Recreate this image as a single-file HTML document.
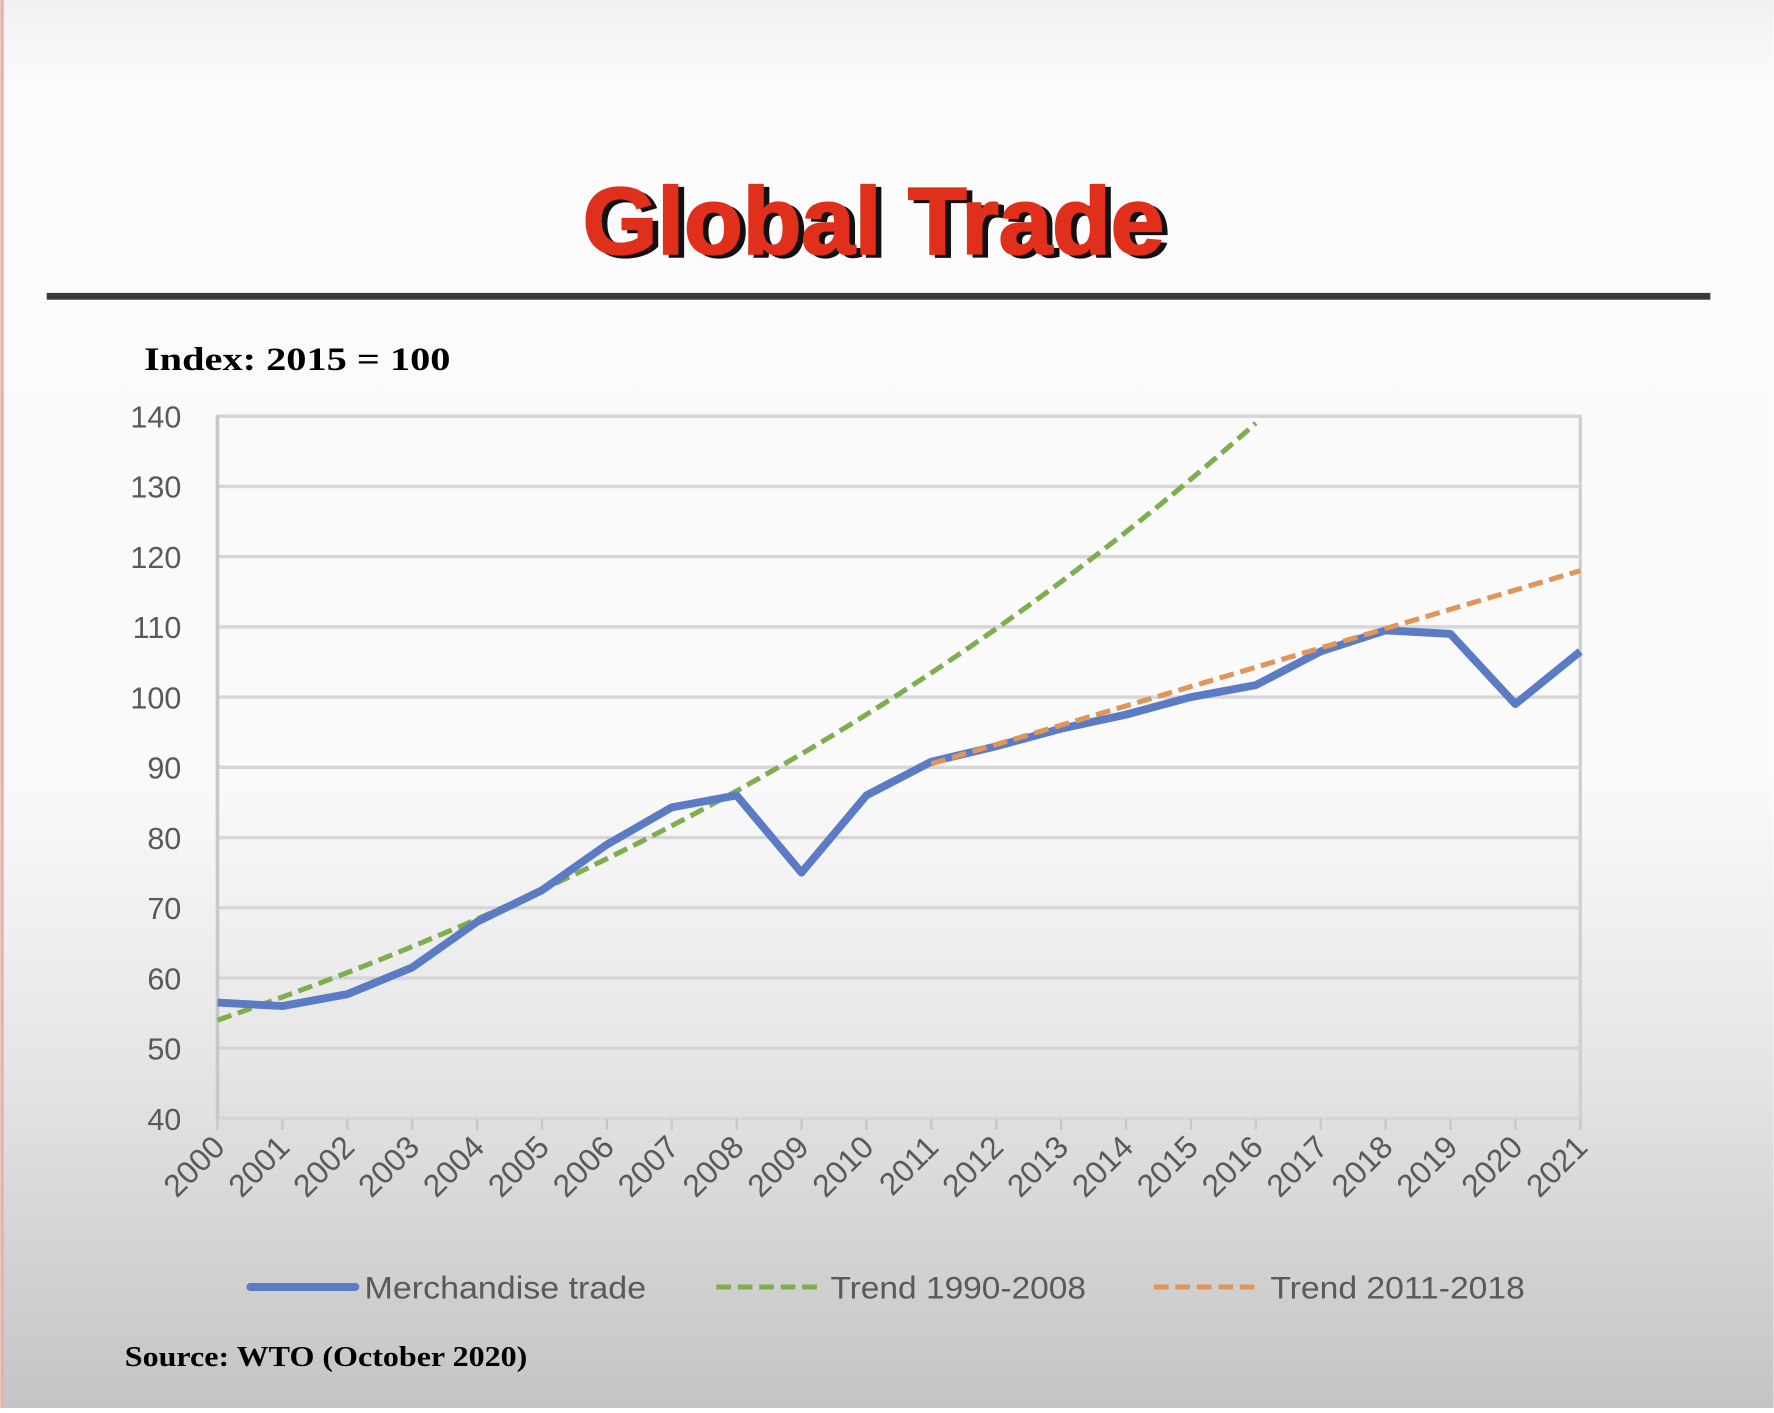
<!DOCTYPE html>
<html><head><meta charset="utf-8"><style>
html,body{margin:0;padding:0;}
body{width:1774px;height:1408px;overflow:hidden;}
</style></head><body>
<svg id="s" width="1774" height="1408" viewBox="0 0 1568 1245" xmlns="http://www.w3.org/2000/svg">
<defs>
<linearGradient id="bg" x1="0" y1="0" x2="0" y2="1">
<stop offset="0" stop-color="#f0f0f0"/>
<stop offset="0.06" stop-color="#fbfbfb"/>
<stop offset="0.55" stop-color="#fafafa"/>
<stop offset="0.75" stop-color="#e6e6e6"/>
<stop offset="1" stop-color="#c4c4c4"/>
</linearGradient>
</defs>
<rect width="1568" height="1245" fill="url(#bg)"/>
<rect x="0" y="0" width="3" height="1245" fill="#e8b0a8"/>
<text x="777" y="227" text-anchor="middle" font-family="Liberation Sans, sans-serif" font-weight="bold" font-size="84" fill="#111" textLength="514" lengthAdjust="spacingAndGlyphs" stroke="#111" stroke-width="2">Global Trade</text>
<text x="772" y="224" text-anchor="middle" font-family="Liberation Sans, sans-serif" font-weight="bold" font-size="84" fill="#e0301c" textLength="514" lengthAdjust="spacingAndGlyphs" stroke="#e0301c" stroke-width="2">Global Trade</text>
<rect x="41" y="259" width="1471" height="6" fill="#3a3a3a"/>
<text x="127" y="327" font-family="Liberation Serif, serif" font-weight="bold" font-size="29" fill="#000" textLength="271" lengthAdjust="spacingAndGlyphs">Index: 2015 = 100</text>
<g id="chart"></g>
<text x="110" y="1208" font-family="Liberation Serif, serif" font-weight="bold" font-size="25" fill="#000" textLength="356" lengthAdjust="spacingAndGlyphs">Source: WTO (October 2020)</text>
</svg>
<script>
var g=document.getElementById('chart'),h='';
function Y(v){return 989-(v-40)*6.21;}
function X(i){return 192+i*1205/21;}
h+='<rect x="192" y="368" width="1205" height="621" fill="none" stroke="#d0d0d0" stroke-width="3"/>';
for(var v=40;v<=140;v+=10){
 h+='<line x1="192" x2="1397" y1="'+Y(v)+'" y2="'+Y(v)+'" stroke="#d6d6d6" stroke-width="3"/>';
 h+='<text x="160" y="'+(Y(v)+10)+'" text-anchor="end" font-family="Liberation Sans, sans-serif" font-size="27" fill="#595959">'+v+'</text>';
}
h+='<line x1="192" x2="192" y1="368" y2="989" stroke="#c8c8c8" stroke-width="3"/>';
for(var i=0;i<=21;i++){
 var x=X(i);
 h+='<line x1="'+x+'" x2="'+x+'" y1="989" y2="999" stroke="#c8c8c8" stroke-width="2"/>';
 h+='<text transform="translate('+(x+8)+',1016) rotate(-45)" text-anchor="end" font-family="Liberation Sans, sans-serif" font-size="28" fill="#595959">'+(2000+i)+'</text>';
}
var p='';for(var t=0;t<=16.01;t+=0.25){p+=(t?'L':'M')+X(t).toFixed(1)+','+Y(54*Math.exp(0.0591*t)).toFixed(1);}
h+='<path d="'+p+'" fill="none" stroke="#7fae4f" stroke-width="4.5" stroke-dasharray="13,6"/>';
var d=[56.5,56,57.7,61.5,68,72.5,79,84.3,86,75,86,90.8,93,95.5,97.5,100,101.7,106.5,109.5,109,99,106.5];
p='';d.forEach(function(v,i){p+=(i?'L':'M')+X(i).toFixed(1)+','+Y(v).toFixed(1);});
h+='<path d="'+p+'" fill="none" stroke="#5b7cc4" stroke-width="7" stroke-linejoin="round"/>';
h+='<line x1="'+X(11)+'" y1="'+Y(90.5)+'" x2="'+X(21)+'" y2="'+Y(118)+'" stroke="#e0955a" stroke-width="4.5" stroke-dasharray="13,6"/>';
h+='<line x1="221" x2="314" y1="1138" y2="1138" stroke="#5b7cc4" stroke-width="7" stroke-linecap="round"/>';
h+='<text x="322" y="1148" font-family="Liberation Sans, sans-serif" font-size="28" fill="#595959" textLength="249" lengthAdjust="spacingAndGlyphs">Merchandise trade</text>';
h+='<line x1="633" x2="725" y1="1138" y2="1138" stroke="#7fae4f" stroke-width="4.5" stroke-dasharray="13,6"/>';
h+='<text x="734" y="1148" font-family="Liberation Sans, sans-serif" font-size="28" fill="#595959" textLength="226" lengthAdjust="spacingAndGlyphs">Trend 1990-2008</text>';
h+='<line x1="1020" x2="1114" y1="1138" y2="1138" stroke="#e0955a" stroke-width="4.5" stroke-dasharray="13,6"/>';
h+='<text x="1123" y="1148" font-family="Liberation Sans, sans-serif" font-size="28" fill="#595959" textLength="225" lengthAdjust="spacingAndGlyphs">Trend 2011-2018</text>';
g.innerHTML=h;
</script>
</body></html>
